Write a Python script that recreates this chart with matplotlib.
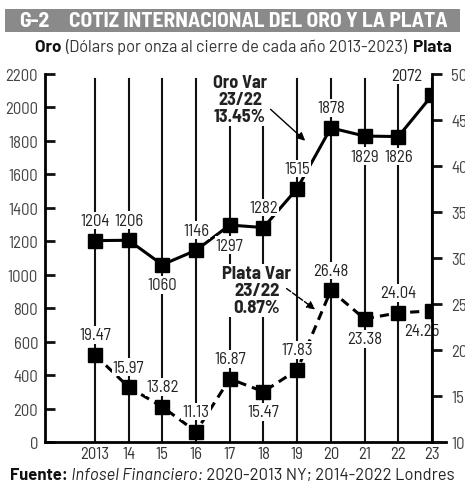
import matplotlib
matplotlib.use('Agg')
from matplotlib import pyplot as plt
from matplotlib.patches import Rectangle

years = [2013, 2014, 2015, 2016, 2017, 2018, 2019, 2020, 2021, 2022, 2023]
year_labels = ["2013", "14", "15", "16", "17", "18", "19", "20", "21", "22", "23"]
oro = [1204, 1206, 1060, 1146, 1297, 1282, 1515, 1878, 1829, 1826, 2072]
plata = [19.47, 15.97, 13.82, 11.13, 16.87, 15.47, 17.83, 26.48, 23.38, 24.04, 24.25]
# label above (+1) or below (-1) each marker
oro_pos = [1, 1, -1, 1, -1, 1, 1, 1, -1, -1, 1]
plata_pos = [1, 1, 1, 1, 1, -1, 1, 1, -1, 1, -1]
oro_ticks = list(range(0, 2201, 200))
plata_ticks = list(range(10, 51, 5))

plt.rcParams['font.family'] = ['Barlow Semi Condensed', 'DejaVu Sans']

fig = plt.figure(figsize=(4.65, 4.89), dpi=100)
W, H = 465, 489

def fx(px):
    return px / W

def fy(py):
    return 1 - py / H

ax = fig.add_axes([fx(45), fy(443), fx(432) - fx(45), (443 - 75) / H])
ax.set_xlim(2011.52, 2023)
ax.set_ylim(0, 2200)

# title bar
fig.patches.append(Rectangle((fx(5), fy(33)), fx(455), 23 / H, transform=fig.transFigure,
                             facecolor='#8a8a8a', edgecolor='none'))
fig.text(fx(19), fy(21.5), "G-2", color='white', fontsize=15.5, fontweight='bold',
         va='center', ha='left')
fig.text(fx(69), fy(21.5), "COTIZ INTERNACIONAL DEL ORO Y LA PLATA", color='white',
         fontsize=15.5, fontweight='bold', va='center', ha='left')

# subtitle
t1 = fig.text(fx(35), fy(47), "Oro ", fontsize=12.3, fontweight='bold', va='center',
              color='#111', family='Barlow')
a2 = ax.annotate("(Dólars por onza al cierre de cada año 2013-2023)  ", xy=(1, 0.5), xycoords=t1,
                 va='center', ha='left', fontsize=11.8, color='#333', family='Barlow',
                 annotation_clip=False)
ax.annotate("Plata", xy=(1, 0.5), xycoords=a2, va='center', ha='left', family='Barlow',
            fontsize=12.3, fontweight='bold', color='#111', annotation_clip=False)

def to_left(v):
    return (v - 10) / 40 * 2200

plata_y = [to_left(v) for v in plata]

for x in years:
    ax.plot([x, x], [0, 2170], color='#111', lw=1.5, zorder=1)

ax.plot(years, oro, color='black', lw=2.2, marker='s', ms=10, zorder=3)
ax.plot(years, plata_y, color='black', lw=2.2, ls=(0, (3, 2)), marker='s', ms=10, zorder=3)

box = dict(facecolor='white', edgecolor='none', pad=1)
oro_dx = [0, 0, 0, 0, 0, 0, 0, 0, 0, 0, -18]
plata_dx = [0, 0, 0, 0, 0, 0, 0, 0, 0, 0, -7]
for x, v, p, dx in zip(years, oro, oro_pos, oro_dx):
    ax.annotate(str(v), (x, v), xytext=(dx, 9 * p), textcoords='offset points',
                ha='center', va='bottom' if p > 0 else 'top', fontsize=12,
                color='#222', bbox=box, zorder=4)
for x, v, yv, p, dx in zip(years, plata, plata_y, plata_pos, plata_dx):
    ax.annotate(f"{v:.2f}", (x, yv), xytext=(dx, 9 * p), textcoords='offset points',
                ha='center', va='bottom' if p > 0 else 'top', fontsize=12,
                color='#222', bbox=box, zorder=4)

# variation notes
ax.text(2017.3, 2050, "Oro Var\n23/22\n13.45%", ha='center', va='center', fontsize=13,
        fontweight='bold', color='#222', linespacing=1.0, bbox=box, zorder=4)
ax.annotate("", xy=(2019.3, 1790), xytext=(2018.15, 2000),
            arrowprops=dict(arrowstyle='-|>', color='black', lw=1, mutation_scale=12), zorder=5)
ax.text(2017.8, 905, "Plata Var\n23/22\n0.87%", ha='center', va='center', fontsize=13.5,
        fontweight='bold', color='#222', linespacing=1.0, bbox=box, zorder=4)
ax.annotate("", xy=(2019.6, 783), xytext=(2018.62, 927),
            arrowprops=dict(arrowstyle='-|>', color='black', lw=1, ls='--', mutation_scale=12), zorder=5)

# axes styling
ax.spines['top'].set_visible(False)
ax.spines['right'].set_visible(False)
for s in ['left', 'bottom']:
    ax.spines[s].set_linewidth(2)
ax.plot([1.0, 1.035], [0, 0], transform=ax.transAxes, color='black', lw=2, clip_on=False)
ax.set_yticks(oro_ticks)
ax.tick_params(axis='y', direction='in', length=7, width=2, colors='#111',
               labelcolor='#444', labelsize=12, pad=5)
ax.set_xticks(years)
ax.set_xticklabels(year_labels)
ax.tick_params(axis='x', length=0, labelcolor='#333', labelsize=12, pad=3)

ax2 = ax.twinx()
ax2.set_ylim(10, 50)
ax2.set_yticks(plata_ticks)
for s in ['top', 'left', 'bottom']:
    ax2.spines[s].set_visible(False)
ax2.spines['right'].set_linewidth(2)
ax2.tick_params(axis='y', direction='out', length=7, width=2, colors='#111',
                labelcolor='#444', labelsize=12, pad=7)

# footer
f1 = fig.text(fx(10), fy(476), "Fuente:", fontsize=12, fontweight='bold', va='center',
              color='#111', family='Barlow')
f2 = ax.annotate(" Infosel Financiero:", xy=(1, 0.5), xycoords=f1, va='center', ha='left',
                 fontsize=12, style='italic', color='#222', family='Barlow',
                 annotation_clip=False)
ax.annotate(" 2020-2013 NY; 2014-2022 Londres", xy=(1, 0.5), xycoords=f2, va='center', ha='left',
            fontsize=12, color='#222', family='Barlow', annotation_clip=False)

fig.savefig('out.png', dpi=100)
